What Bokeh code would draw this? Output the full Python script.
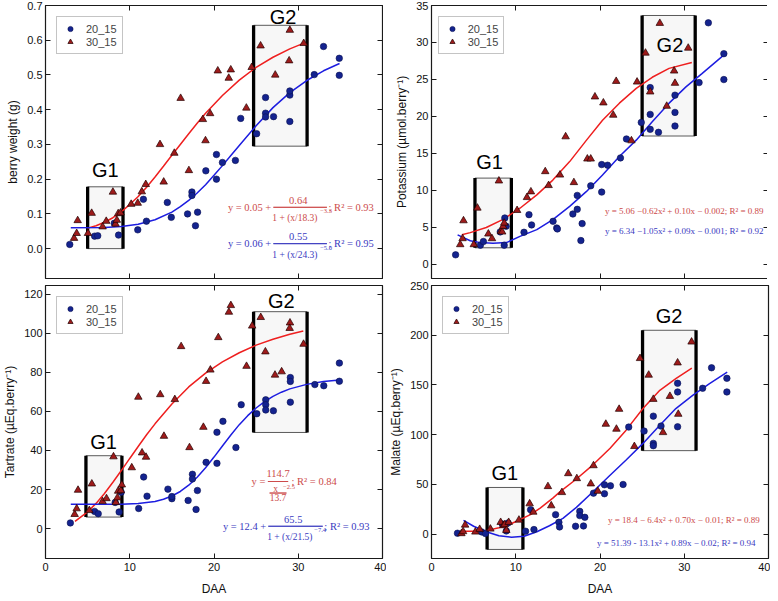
from bokeh.plotting import figure
from bokeh.layouts import gridplot
from bokeh.models import (Range1d, FixedTicker, LinearAxis, Label, BoxAnnotation,
                          NumeralTickFormatter)
from bokeh.embed import file_html
from bokeh.resources import INLINE

# ---------------- data ----------------
x_ticks = [0, 10, 20, 30, 40]
series_names = ["20_15", "30_15"]

# berry weight
bw_20_x = [2.88, 5.83, 6.2, 8.16, 8.67, 10.95, 11.62, 11.98, 14.46, 14.93, 16.86, 17.38, 17.38, 17.8, 18.05,
           19.03, 20.29, 20.29, 21.0, 22.54, 23.17, 25.06, 26.12, 26.12, 26.12, 27.07, 29.0, 29.0, 29.0,
           31.9, 33.0, 34.87, 34.87]
bw_20_y = [0.012, 0.036, 0.037, 0.073, 0.039, 0.054, 0.142, 0.079, 0.133, 0.090, 0.100, 0.163, 0.153, 0.066,
           0.105, 0.224, 0.200, 0.271, 0.248, 0.254, 0.375, 0.331, 0.435, 0.390, 0.379, 0.380, 0.366, 0.442,
           0.454, 0.501, 0.582, 0.548, 0.499]
bw_30_x = [3.39, 3.7, 3.82, 5.04, 5.48, 6.78, 7.21, 8.0, 8.31, 8.47, 8.63, 8.9, 10.17, 10.95, 11.43, 11.9,
           13.59, 14.03, 15.29, 16.04, 17.02, 18.68, 18.99, 19.54, 20.45, 21.75, 21.99, 23.84, 24.47, 25.53,
           27.27, 29.0, 28.92, 30.65]
bw_30_y = [0.030, 0.044, 0.081, 0.044, 0.102, 0.063, 0.079, 0.163, 0.071, 0.082, 0.101, 0.103, 0.128, 0.131,
           0.164, 0.185, 0.300, 0.192, 0.275, 0.433, 0.225, 0.372, 0.311, 0.389, 0.512, 0.491, 0.515, 0.405,
           0.522, 0.584, 0.500, 0.629, 0.541, 0.591]
bw_fit20_x = [3, 7, 9, 11, 13, 15, 16, 17, 18, 19, 20, 21, 22, 23, 25, 27, 29, 31, 33, 34.9]
bw_fit20_y = [0.060, 0.061, 0.064, 0.070, 0.083, 0.105, 0.121, 0.139, 0.160, 0.184, 0.211, 0.239, 0.268,
              0.297, 0.354, 0.406, 0.449, 0.484, 0.512, 0.533]
bw_fit30_x = [5, 6, 7, 8, 9, 10, 11, 12, 13, 14, 15, 16, 17, 18, 19, 21, 23, 25, 27, 29, 30.6]
bw_fit30_y = [0.059, 0.066, 0.076, 0.089, 0.106, 0.127, 0.150, 0.177, 0.206, 0.237, 0.269, 0.300, 0.331,
              0.361, 0.390, 0.441, 0.485, 0.522, 0.551, 0.575, 0.591]

# potassium
k_20_x = [2.86, 5.8, 6.16, 8.16, 8.63, 8.7, 8.86, 10.98, 11.57, 11.88, 14.43, 14.86, 14.94, 16.78, 17.3, 17.3,
          17.73, 17.88, 18.9, 20.2, 20.2, 20.9, 22.43, 23.14, 24.9, 25.96, 25.96, 25.96, 26.94, 28.9, 28.9,
          28.9, 31.76, 32.86, 34.7, 34.7]
k_20_y = [1.30, 2.6, 3.1, 4.4, 2.6, 6.28, 5.16, 4.35, 6.73, 5.34, 5.83, 4.93, 4.8, 6.82, 9.33, 7.45, 3.23, 5.52,
          10.63, 13.5, 9.78, 13.41, 14.4, 16.96, 19.2, 23.9, 20.28, 18.26, 17.86, 22.88, 20.55, 18.71, 24.58,
          32.66, 28.49, 24.99]
k_30_x = [3.41, 3.69, 3.8, 5.02, 5.45, 6.75, 7.18, 8.0, 8.24, 8.39, 8.5, 8.63, 10.16, 11.33, 11.8, 13.5, 13.9,
          15.25, 15.92, 16.9, 18.5, 18.9, 19.4, 20.4, 21.57, 21.92, 23.73, 24.4, 25.4, 25.96, 27.1, 27.92,
          28.8, 28.9, 30.47]
k_30_y = [2.69, 3.5, 5.92, 2.69, 7.63, 4.13, 3.5, 11.3, 4.49, 4.4, 5.16, 5.6, 7.31, 9.06, 9.83, 12.56, 10.68,
          12.1, 17.27, 11.08, 14.27, 14.27, 22.66, 21.85, 20.19, 24.76, 16.73, 24.67, 28.58, 23.33, 32.6,
          21.4, 26.16, 24.5, 29.25]
k_fit20_x = [3.1, 4.6, 5.8, 7.3, 8.9, 10.5, 12.5, 14.4, 16.4, 18.4, 20.3, 22.3, 24.3, 26.2, 28.2, 30.2, 32.1, 35.0]
k_fit20_y = [4.0, 3.2, 2.95, 2.85, 2.95, 3.8, 4.7, 6.06, 7.85, 9.87, 12.1, 14.6, 16.8, 19.3, 21.8, 24.0, 25.8, 28.6]
k_fit30_x = [3.6, 4.6, 6.5, 8.5, 10.5, 12.5, 14.4, 16.4, 18.4, 20.3, 22.3, 24.3, 26.2, 28.2, 30.9]
k_fit30_y = [4.0, 4.3, 5.0, 6.1, 7.6, 9.4, 11.4, 13.9, 16.8, 19.5, 21.8, 23.8, 25.3, 26.5, 27.3]

# tartrate
t_20_x = [2.95, 5.83, 6.26, 8.27, 8.74, 8.98, 11.06, 11.65, 12.05, 14.53, 15.0, 15.0, 16.93, 17.44, 17.44, 17.87,
          18.03, 19.06, 20.35, 20.35, 21.06, 22.6, 23.23, 25.08, 26.14, 26.14, 26.14, 27.05, 29.06, 29.06,
          29.06, 31.97, 33.03, 34.88, 34.88]
t_20_y = [2.9, 8.8, 7.6, 13.4, 8.5, 18.6, 10.3, 26.4, 16.6, 20.2, 15.3, 16.4, 14.4, 27.8, 25.4, 9.8, 19.5, 33.9,
          49.3, 33.4, 54.9, 41.5, 63.4, 58.8, 65.9, 63.4, 60.7, 60.3, 77.3, 75.3, 64.7, 73.7, 73.1, 84.7, 75.4]
t_30_x = [3.46, 3.7, 3.86, 5.2, 5.5, 6.77, 7.24, 8.07, 8.35, 8.54, 8.62, 8.94, 9.06, 10.24, 11.02, 11.46, 11.93,
          13.62, 14.06, 15.35, 16.1, 17.09, 18.74, 19.06, 19.57, 20.51, 21.77, 22.0, 23.86, 24.53, 25.55,
          26.1, 27.24, 28.03, 29.02, 28.98, 30.63]
t_30_y = [7.3, 10.2, 19.7, 9.3, 22.9, 13.9, 15.4, 36.8, 13.4, 15.8, 19.2, 19.5, 22.4, 31.2, 67.3, 38.8, 36.6,
          68.6, 47.3, 66.1, 93.2, 41.5, 51.9, 75.4, 81.2, 97.8, 110.8, 114.2, 83.1, 103.7, 108.1, 90.5, 78.6,
          80.3, 105.3, 102.5, 94.4]
t_fit20_x = [3, 9, 11, 13, 14, 15, 16, 17, 18, 19, 20, 21, 22, 23, 24, 25, 26, 27, 28, 29, 31, 33, 34.9]
t_fit20_y = [12.4, 12.5, 12.9, 13.9, 15.0, 16.7, 19.0, 22.2, 26.3, 31.1, 36.6, 42.3, 47.9, 53.2, 57.8, 61.7,
             65.0, 67.7, 69.8, 71.5, 73.8, 75.3, 76.1]
t_fit30_x = [3.5, 5, 6, 7, 8, 9, 10, 11, 12, 13, 15, 17, 19, 21, 23, 25, 27, 29, 30.6]
t_fit30_y = [3.7, 8.6, 12.9, 18.0, 23.7, 29.7, 35.9, 42.0, 48.0, 53.6, 63.8, 72.5, 79.6, 85.3, 90.0, 93.9,
             96.9, 99.5, 101.1]

# malate
m_20_x = [3.08, 5.96, 6.4, 8.4, 8.88, 9.08, 11.17, 11.76, 12.16, 14.73, 15.12, 15.2, 17.1, 17.6, 17.6, 18.04,
          18.2, 19.23, 20.53, 20.53, 21.24, 22.74, 23.41, 25.23, 26.33, 26.33, 26.33, 27.24, 29.21, 29.21,
          29.21, 32.18, 33.24, 35.06, 35.06]
m_20_y = [1.0, 2.3, 0.7, 10.3, 3.3, 11.3, 3.0, 24.7, 4.7, 19.7, 12.0, 7.3, 8.0, 23.0, 18.7, 8.3, 17.0, 41.3,
          49.7, 40.7, 48.7, 50.0, 107.7, 103.7, 118.7, 91.3, 89.0, 108.7, 151.7, 143.0, 108.0, 146.7, 167.3,
          156.7, 143.0]
m_30_x = [3.55, 3.75, 3.99, 5.21, 5.72, 6.99, 8.21, 8.53, 8.69, 8.88, 9.16, 10.38, 11.65, 12.08, 13.82, 14.21,
          15.48, 16.23, 17.25, 18.91, 19.23, 19.74, 20.69, 21.95, 22.27, 24.08, 24.75, 25.78, 26.33, 27.48,
          28.3, 29.21, 29.29, 30.87]
m_30_y = [0.7, 2.7, 9.3, 2.3, 5.0, 5.3, 12.0, 8.7, 9.7, 4.0, 12.0, 14.3, 30.7, 22.3, 48.0, 28.7, 42.0, 61.0,
          56.0, 50.7, 69.0, 43.3, 110.7, 105.7, 125.7, 88.3, 176.7, 160.0, 135.7, 102.3, 138.7, 172.3, 120.7,
          193.3]
m_fit20_x = [3.8, 5.0, 6.5, 8.0, 9.5, 11.0, 12.5, 14.0, 15.6, 17.2, 19.2, 21.1, 23.1, 25.1, 27.1, 29.0, 31.0,
             33.0, 35.1]
m_fit20_y = [14, 8, 2.5, -1.5, -3, -2, 2.5, 8.5, 16, 27, 43, 58.6, 74.6, 91.3, 109.6, 126.3, 139.6, 151.3, 163]
m_fit30_x = [3.6, 5.0, 6.5, 8.0, 9.3, 10.5, 11.8, 12.9, 14.4, 15.2, 17.2, 19.2, 21.2, 23.1, 25.1, 27.1, 29.0, 30.9]
m_fit30_y = [3, 3, 3.6, 6.5, 10, 14.6, 20, 26.3, 36.3, 42.3, 55.5, 70, 86.5, 104.6, 126.3, 144.6, 156.3, 167]

# group boxes (left, right, bottom, top) and label anchors
groups = {
    "bw": {"G1": (5.0, 9.2, 0.0, 0.178, 7.1, 0.226), "G2": (24.7, 31.05, 0.295, 0.643, 28.2, 0.668)},
    "k": {"G1": (5.16, 9.48, 2.25, 11.67, 6.9, 13.8), "G2": (25.0, 31.3, 17.36, 33.65, 28.3, 29.6)},
    "t": {"G1": (4.8, 9.07, 5.9, 37.3, 6.9, 44.5), "G2": (24.7, 31.05, 49.2, 111.0, 28.0, 116.7)},
    "m": {"G1": (6.6, 10.85, -15.3, 47.0, 8.7, 61.3), "G2": (25.05, 31.4, 84.0, 205.0, 28.2, 219.6)},
}

RED_PT = "#9e1b1b"
BLUE_PT = "#14238f"
RED_LN = "#ee1f1f"
BLUE_LN = "#1d1de0"
RED_TX = "#cc4a4a"
BLUE_TX = "#3a3abf"
FONT = "Liberation Sans"
EQF = "Liberation Serif"

FW, FH = 337, 273


def hidden_axis(ticks):
    return LinearAxis(ticker=FixedTicker(ticks=ticks), major_label_text_font_size="0px",
                      major_label_text_color=None, major_label_standoff=0,
                      major_tick_in=5, major_tick_out=0, axis_line_color=None, minor_tick_line_color=None,
                      major_tick_line_color="#1a1a1a")


def make_panel(yr, yticks, ylabel, top_row, left_col, yfmt=None):
    p = figure(frame_width=FW, frame_height=FH, x_range=Range1d(0, 40), y_range=Range1d(*yr),
               output_backend="svg", toolbar_location=None, tools="")
    p.min_border_left = 40 if left_col else 42
    p.min_border_right = 4 if left_col else 2
    p.min_border_top = 5
    p.min_border_bottom = 2 if top_row else 35
    p.background_fill_color = "white"
    p.border_fill_color = "white"
    p.outline_line_color = "#1a1a1a"
    p.outline_line_width = 1.2
    p.xgrid.visible = False
    p.ygrid.visible = False
    for ax in (p.xaxis[0], p.yaxis[0]):
        ax.axis_line_color = None
        ax.major_tick_in = 5
        ax.major_tick_out = 0
        ax.major_tick_line_color = "#1a1a1a"
        ax.minor_tick_line_color = None
        ax.major_label_text_font = FONT
        ax.major_label_text_font_size = "11px"
        ax.major_label_text_color = "#111111"
        ax.axis_label_text_font = FONT
        ax.axis_label_text_font_size = "12px"
        ax.axis_label_text_font_style = "normal"
        ax.axis_label_text_color = "#111111"
    p.xaxis.ticker = FixedTicker(ticks=x_ticks)
    p.yaxis.ticker = FixedTicker(ticks=yticks)
    if yfmt:
        p.yaxis.formatter = NumeralTickFormatter(format=yfmt)
    p.yaxis.axis_label = ylabel
    p.yaxis.major_label_standoff = 3
    p.yaxis.axis_label_standoff = 4
    if top_row:
        p.xaxis.major_label_text_font_size = "0px"
        p.xaxis.major_label_text_color = None
        p.xaxis.major_label_standoff = 0
    else:
        p.xaxis.axis_label = "DAA"
        p.xaxis.major_label_standoff = 4
        p.xaxis.axis_label_standoff = 8
    p.add_layout(hidden_axis(yticks), "right")
    p.add_layout(hidden_axis(x_ticks), "above")
    return p


def add_groups(p, g):
    for name, (l, r, b, t, lx, ly) in g.items():
        p.add_layout(BoxAnnotation(left=l, right=r, bottom=b, top=t, fill_color="#f0f0f0", fill_alpha=0.5,
                                   line_color="#5a5a5a", line_alpha=1, line_width=1, level="underlay"))
        for edge in (l, r):
            p.add_layout(BoxAnnotation(left=edge, right=edge, bottom=b, top=t, fill_alpha=0,
                                       line_color="black", line_alpha=1, line_width=3.3, level="underlay"))
        p.add_layout(Label(x=lx, y=ly, text=name, text_font=FONT, text_font_size="20px", text_color="black",
                           text_align="center", text_baseline="middle"))


def add_series(p, x20, y20, x30, y30, fx20, fy20, fx30, fy30):
    p.line(fx30, fy30, line_color=RED_LN, line_width=1.5)
    p.line(fx20, fy20, line_color=BLUE_LN, line_width=1.5)
    p.scatter(x20, y20, marker="circle", size=6.5, fill_color=BLUE_PT, line_color="#0a1050", line_width=0.6,
              legend_label=series_names[0])
    p.scatter(x30, y30, marker="triangle", size=7.5, fill_color=RED_PT, line_color="#220000", line_width=0.7,
              legend_label=series_names[1])
    lg = p.legend[0]
    lg.location = "top_left"
    lg.margin = 11
    lg.padding = 5
    lg.spacing = 0
    lg.label_text_font = FONT
    lg.label_text_font_size = "11px"
    lg.label_height = 13
    lg.glyph_height = 13
    lg.glyph_width = 16
    lg.label_standoff = 8
    lg.border_line_color = "#8a8a8a"
    lg.border_line_width = 1
    lg.background_fill_color = "white"
    lg.background_fill_alpha = 1


def txt(p, x, y, s, color, size="10.5px", align="left", font=EQF):
    p.add_layout(Label(x=x, y=y, text=s, text_font=font, text_font_size=size, text_color=color,
                       text_align=align, text_baseline="middle"))


def bar(p, x0, x1, y, color):
    p.add_layout(BoxAnnotation(left=x0, right=x1, bottom=y, top=y, fill_alpha=0, line_color=color,
                               line_alpha=1, line_width=0.9))


# ---------------- panels ----------------
p1 = make_panel((-0.086, 0.7), [0, 0.1, 0.2, 0.3, 0.4, 0.5, 0.6, 0.7], "berry weight (g)", True, True, "0.0")
add_groups(p1, groups["bw"])
add_series(p1, bw_20_x, bw_20_y, bw_30_x, bw_30_y, bw_fit20_x, bw_fit20_y, bw_fit30_x, bw_fit30_y)
# red equation
txt(p1, 26.8, 0.119, "y = 0.05 +", RED_TX, align="right")
txt(p1, 30.0, 0.140, "0.64", RED_TX, align="center")
bar(p1, 27.05, 33.4, 0.119, RED_TX)
txt(p1, 29.6, 0.088, "1 + (x/18.3)", RED_TX, size="9.5px", align="center")
txt(p1, 32.6, 0.108, "−3.3", RED_TX, size="6.5px")
txt(p1, 33.6, 0.119, "; R² = 0.93", RED_TX)
# blue equation
txt(p1, 26.8, 0.0143, "y = 0.06 +", BLUE_TX, align="right")
txt(p1, 30.0, 0.0354, "0.55", BLUE_TX, align="center")
bar(p1, 27.05, 33.4, 0.0143, BLUE_TX)
txt(p1, 29.6, -0.0175, "1 + (x/24.3)", BLUE_TX, size="9.5px", align="center")
txt(p1, 32.6, 0.002, "−5.0", BLUE_TX, size="6.5px")
txt(p1, 33.6, 0.0143, "; R² = 0.95", BLUE_TX)

p2 = make_panel((-1.9, 35), [0, 5, 10, 15, 20, 25, 30, 35], "Potassium (µmol.berry⁻¹)", True, False)
add_groups(p2, groups["k"])
add_series(p2, k_20_x, k_20_y, k_30_x, k_30_y, k_fit20_x, k_fit20_y, k_fit30_x, k_fit30_y)
txt(p2, 30.0, 7.17, "y = 5.06 −0.62x² + 0.10x − 0.002; R² = 0.89", RED_TX, size="9px", align="center")
txt(p2, 30.0, 4.48, "y = 6.34 −1.05x² + 0.09x − 0.001; R² = 0.92", BLUE_TX, size="9px", align="center")

p3 = make_panel((-15.3, 124.4), [0, 20, 40, 60, 80, 100, 120], "Tartrate (µEq.berry⁻¹)", False, True)
add_groups(p3, groups["t"])
add_series(p3, t_20_x, t_20_y, t_30_x, t_30_y, t_fit20_x, t_fit20_y, t_fit30_x, t_fit30_y)
txt(p3, 26.1, 24.1, "y =", RED_TX, align="right")
txt(p3, 27.6, 28.2, "114.7", RED_TX, align="center")
bar(p3, 26.4, 28.8, 24.1, RED_TX)
txt(p3, 27.3, 20.4, "x", RED_TX, size="9.5px", align="center")
txt(p3, 28.2, 21.5, "−2.5", RED_TX, size="6.5px")
bar(p3, 26.6, 28.6, 18.2, RED_TX)
txt(p3, 27.6, 15.7, "13.7", RED_TX, size="9.5px", align="center")
txt(p3, 29.2, 24.1, "; R² = 0.84", RED_TX)
txt(p3, 26.2, 1.2, "y = 12.4 +", BLUE_TX, align="right")
txt(p3, 29.4, 4.6, "65.5", BLUE_TX, align="center")
bar(p3, 26.45, 32.9, 1.2, BLUE_TX)
txt(p3, 29.0, -4.4, "1 + (x/21.5)", BLUE_TX, size="9.5px", align="center")
txt(p3, 31.9, -0.9, "−7.4", BLUE_TX, size="6.5px")
txt(p3, 33.1, 1.2, "; R² = 0.93", BLUE_TX)

p4 = make_panel((-24.4, 250), [0, 50, 100, 150, 200, 250], "Malate (µEq.berry⁻¹)", False, False)
add_groups(p4, groups["m"])
add_series(p4, m_20_x, m_20_y, m_30_x, m_30_y, m_fit20_x, m_fit20_y, m_fit30_x, m_fit30_y)
txt(p4, 29.95, 14.6, "y = 18.4 − 6.4x² + 0.70x − 0.01; R² = 0.89", RED_TX, size="9px", align="center")
txt(p4, 29.05, -8.7, "y = 51.39 - 13.1x² + 0.89x − 0.02; R² = 0.94", BLUE_TX, size="9px", align="center")

grid = gridplot([[p1, p2], [p3, p4]], toolbar_location=None)

open("out.html", "w").write(file_html(grid, INLINE))
